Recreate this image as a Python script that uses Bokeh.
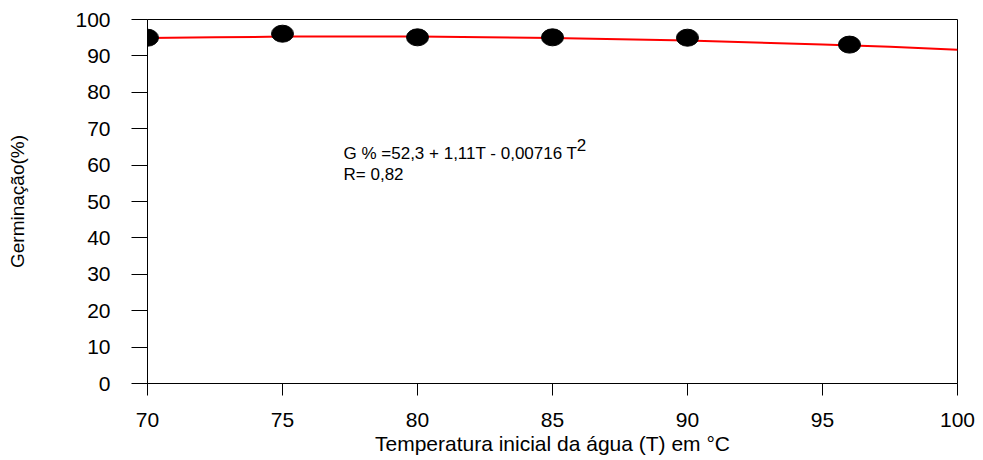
from bokeh.plotting import figure
from bokeh.models import Range1d, FixedTicker, Label, ColumnDataSource
from bokeh.embed import file_html
from bokeh.resources import INLINE

# Observed germination (%) at each initial water temperature (°C)
temperature = [70, 75, 80, 85, 90, 96]
germination = [95.0, 96.1, 95.1, 95.1, 95.0, 93.1]

# Fitted curve
curve_t = [70, 72.5, 75, 77.5, 80, 82.5, 85, 87.5, 90, 92.5, 95, 97.5, 100]
curve_g = [94.9, 95.1, 95.3, 95.3, 95.3, 95.1, 94.9, 94.6, 94.2, 93.7, 93.1, 92.5, 91.7]

x_ticks = [70, 75, 80, 85, 90, 95, 100]
y_ticks = [0, 10, 20, 30, 40, 50, 60, 70, 80, 90, 100]

FONT = "Liberation Sans"

p = figure(
    frame_width=810, frame_height=364,
    min_border_left=147, min_border_right=18, min_border_top=19, min_border_bottom=73,
    x_range=Range1d(70, 100), y_range=Range1d(0, 100),
    output_backend="svg", toolbar_location=None,
    background_fill_color="white", border_fill_color="white",
)
p.outline_line_color = "black"
p.outline_line_width = 1
p.xgrid.visible = False
p.ygrid.visible = False

for ax in (p.xaxis, p.yaxis):
    ax.axis_line_color = "black"
    ax.major_tick_line_color = "black"
    ax.minor_tick_line_color = None
    ax.major_tick_in = 0
    ax.major_label_text_font = FONT
    ax.major_label_text_font_size = "21px"
    ax.major_label_text_color = "black"
    ax.axis_label_text_font = FONT
    ax.axis_label_text_font_style = "normal"
    ax.axis_label_text_color = "black"

p.xaxis.ticker = FixedTicker(ticks=x_ticks)
p.yaxis.ticker = FixedTicker(ticks=y_ticks)
p.xaxis.major_tick_out = 12
p.yaxis.major_tick_out = 16
p.xaxis.major_label_standoff = 17
p.yaxis.major_label_standoff = 21
p.xaxis.axis_label = "Temperatura inicial da água (T) em °C"
p.xaxis.axis_label_text_font_size = "21px"
p.xaxis.axis_label_standoff = 2
p.yaxis.axis_label = "Germinação(%)"
p.yaxis.axis_label_text_font_size = "19px"
p.yaxis.axis_label_standoff = 44

p.line(curve_t, curve_g, line_color="red", line_width=2)

src = ColumnDataSource(data=dict(t=temperature, g=germination))
p.ellipse(x="t", y="g", width=22, height=17, width_units="screen", height_units="screen",
          source=src, fill_color="black", line_color="black")

p.add_layout(Label(x=77.26, y=63.2, text="G % =52,3 + 1,11T - 0,00716 T",
                   text_font=FONT, text_font_size="17px", text_color="black",
                   text_baseline="middle", text_align="left"))
p.add_layout(Label(x=85.9, y=65.5, text="2",
                   text_font=FONT, text_font_size="17px", text_color="black",
                   text_baseline="middle", text_align="left"))
p.add_layout(Label(x=77.26, y=57.5, text="R= 0,82",
                   text_font=FONT, text_font_size="17px", text_color="black",
                   text_baseline="middle", text_align="left"))

open("out.html", "w").write(file_html(p, INLINE))
